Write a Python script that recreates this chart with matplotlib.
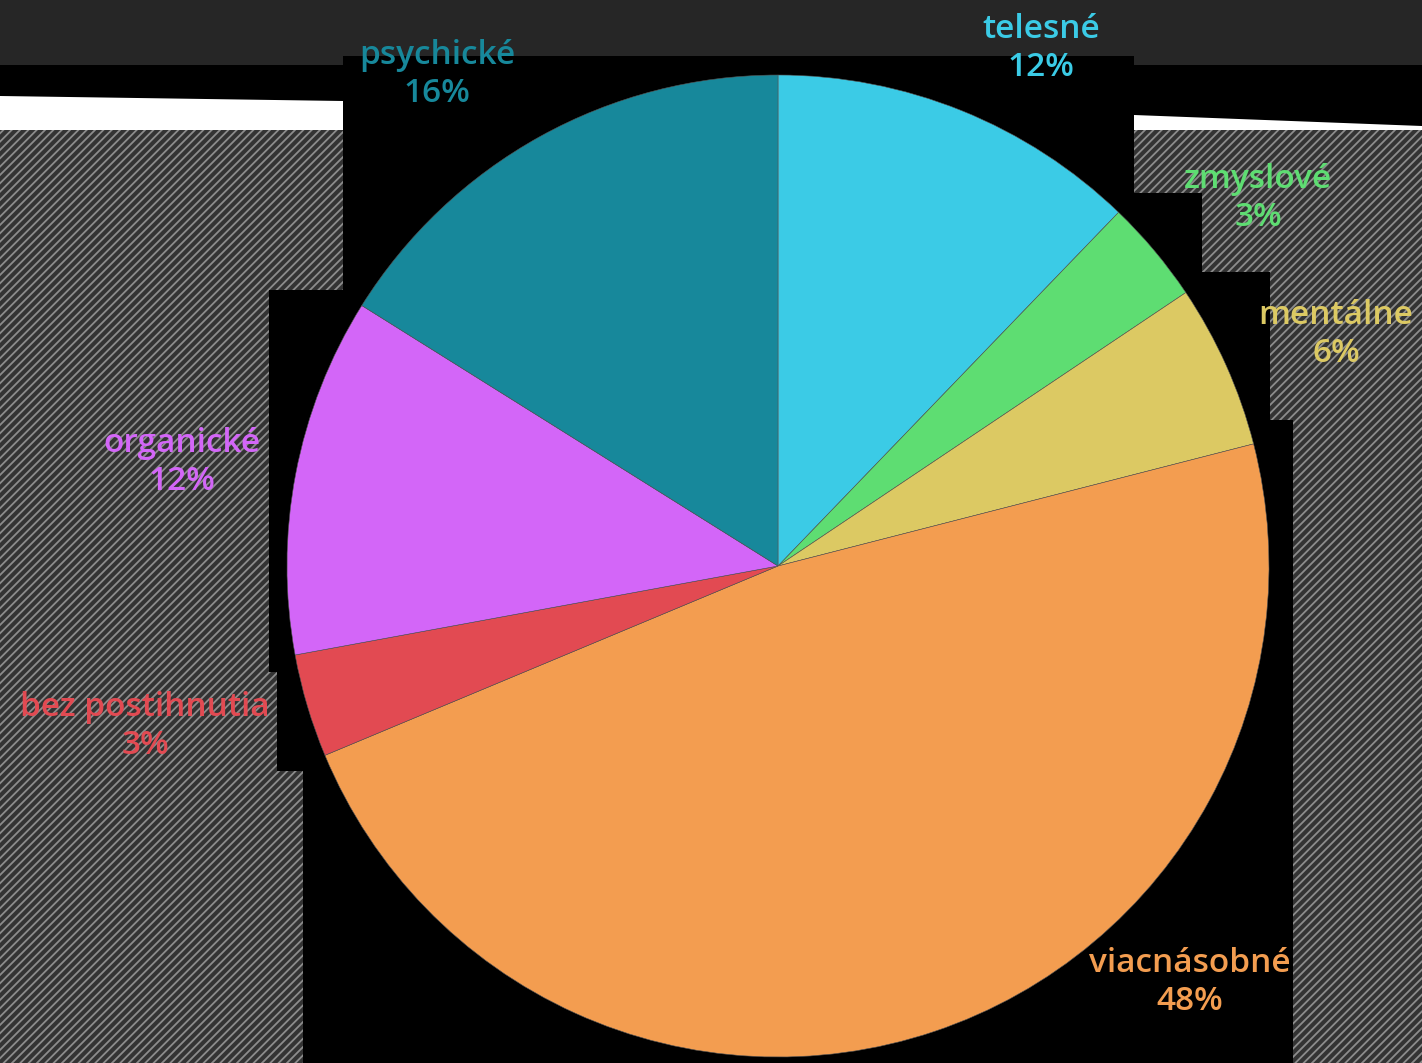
import matplotlib
matplotlib.use('Agg')
import matplotlib.pyplot as plt
from matplotlib.patches import Rectangle, Polygon

# data (clockwise from 12 o'clock)
categories = ['telesné', 'zmyslové', 'mentálne', 'viacnásobné',
              'bez postihnutia', 'organické', 'psychické']
shares = [12.2, 3.4, 5.4, 47.7, 3.4, 11.8, 16.1]
pct_labels = ['12%', '3%', '6%', '48%', '3%', '12%', '16%']
colors = ['#3BCBE6', '#5EDD72', '#DCC963', '#F39D50',
          '#E24A52', '#D366F8', '#17889B']

# label centres in pixels (x, y from top)
label_pos = [(1041, 48), (1258, 198), (1336, 334), (1190, 983),
             (145, 727), (182, 463), (437, 75)]

W, H = 1422, 1063
plt.rcParams['hatch.linewidth'] = 1.3
plt.rcParams['hatch.color'] = '#8c8c8c'

fig = plt.figure(figsize=(W / 100, H / 100), dpi=100)
ax = fig.add_axes([0, 0, 1, 1])
ax.set_xlim(0, W)
ax.set_ylim(0, H)
ax.axis('off')

def box(x0, y0, x1, y1, **kw):
    # y given from the top of the picture
    ax.add_patch(Rectangle((x0, H - y1), x1 - x0, y1 - y0, **kw))

# screenshot-like backdrop
box(0, 130, W, H, facecolor='#333333', edgecolor='#8c8c8c', hatch='////', lw=0)
box(0, 0, W, 130, facecolor='black', lw=0)
ax.add_patch(Polygon([(0, H - 96), (343, H - 101), (343, H - 130), (0, H - 130)],
                     facecolor='white', lw=0))
ax.add_patch(Polygon([(1134, H - 115), (W, H - 126), (W, H - 130), (1134, H - 130)],
                     facecolor='white', lw=0))
box(0, 0, W, 65, facecolor='#262626', lw=0)
box(343, 56, 1134, H, facecolor='black', lw=0)
box(269, 290, 343, 672, facecolor='black', lw=0)
box(277, 672, 343, 771, facecolor='black', lw=0)
box(303, 771, 343, H, facecolor='black', lw=0)
box(1134, 193, 1202, H, facecolor='black', lw=0)
box(1202, 272, 1270, H, facecolor='black', lw=0)
box(1270, 420, 1293, H, facecolor='black', lw=0)

ax.pie(shares, colors=colors, startangle=90, counterclock=False,
       center=(778, H - 566), radius=491, frame=True,
       wedgeprops=dict(linewidth=0.4, edgecolor='#555555'))
ax.set_xlim(0, W)
ax.set_ylim(0, H)
ax.set_aspect('equal')
ax.axis('off')

for name, pct, col, (x, y) in zip(categories, pct_labels, colors, label_pos):
    ax.text(x, H - y, name + '\n' + pct, color=col, ha='center', va='center',
            multialignment='center', fontsize=24, fontweight='semibold',
            family=['Open Sans', 'DejaVu Sans'], linespacing=1.2)

fig.savefig('out.png', dpi=100, facecolor='black')
